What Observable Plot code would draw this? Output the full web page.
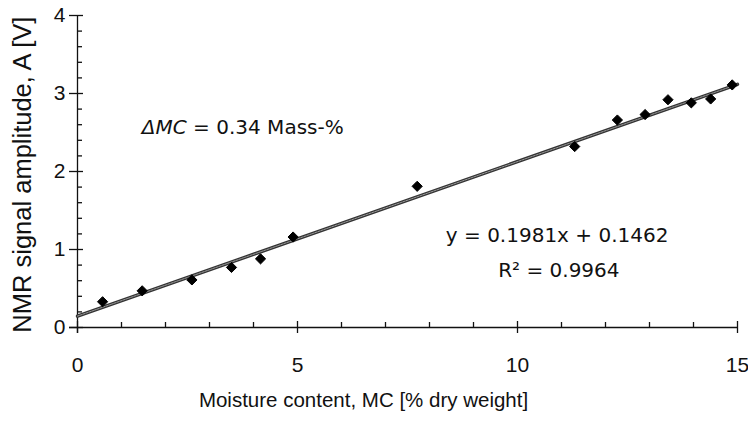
<!DOCTYPE html>
<html>
<head>
<meta charset="utf-8">
<script src="https://cdn.jsdelivr.net/npm/d3@7"></script>
<script src="https://cdn.jsdelivr.net/npm/@observablehq/plot@0.6"></script>
<style>
  html, body { margin: 0; padding: 0; background: #fff; }
  #chart { width: 748px; height: 421px; }
</style>
</head>
<body>
<div id="chart"></div>
<script>
// Data
const moisture = [0.57, 1.47, 2.6, 3.5, 4.16, 4.9, 7.72, 11.3, 12.27, 12.9, 13.42, 13.95, 14.39, 14.88];
const amplitude = [0.33, 0.47, 0.61, 0.77, 0.88, 1.16, 1.81, 2.32, 2.66, 2.73, 2.92, 2.88, 2.93, 3.11];
const slope = 0.1981;
const intercept = 0.1462;
const trendX = [0, 15];
const xTicks = [0, 5, 10, 15];
const yTicks = [0, 1, 2, 3, 4];
const xMinor = [1, 2, 3, 4, 6, 7, 8, 9, 11, 12, 13, 14];
const yMinor = [0.2, 0.4, 0.6, 0.8, 1.2, 1.4, 1.6, 1.8, 2.2, 2.4, 2.6, 2.8, 3.2, 3.4, 3.6, 3.8];
const xTitle = "Moisture content, MC [% dry weight]";
const yTitle = "NMR signal amplitude, A [V]";
const eqText = "y = 0.1981x + 0.1462";
const r2Text = "R\u00B2 = 0.9964";
const dmcText = "\u0394MC = 0.34 Mass-%";

const points = moisture.map((m, i) => ({x: m, y: amplitude[i]}));
const trend = trendX.map(x => ({x, y: slope * x + intercept}));

const font = "'Liberation Sans', Arial, sans-serif";
const annFont = "'DejaVu Sans', Verdana, sans-serif";
const ink = "#111";

const chart = Plot.plot({
  width: 748,
  height: 421,
  marginLeft: 77,
  marginRight: 11,
  marginTop: 15,
  marginBottom: 94,
  x: {domain: [0, 15], axis: null},
  y: {domain: [0, 4], axis: null},
  style: {fontFamily: font, background: "#fff", color: ink},
  marks: [
    // axis lines
    Plot.ruleY([0], {insetLeft: -8, stroke: ink, strokeWidth: 1.3}),
    Plot.ruleX([0], {insetBottom: -6, stroke: ink, strokeWidth: 1.3}),
    // x ticks
    Plot.ruleX(xMinor, {y1: 0, y2: 0, insetBottom: 5, stroke: ink, strokeWidth: 1.3}),
    Plot.ruleX(xTicks, {y1: 0, y2: 0, insetTop: 6, insetBottom: 6, stroke: ink, strokeWidth: 1.3}),
    // y ticks
    Plot.ruleY(yMinor, {x1: 0, x2: 0, insetRight: -5, stroke: ink, strokeWidth: 1.3}),
    Plot.ruleY(yTicks, {x1: 0, x2: 0, insetLeft: -8, insetRight: -6, stroke: ink, strokeWidth: 1.3}),
    // tick labels
    Plot.text(xTicks, {x: d => d, y: 0, dy: 38, text: d => String(d), fontSize: 21, fill: ink}),
    Plot.text(yTicks, {x: 0, y: d => d, dx: -12, textAnchor: "end", text: d => String(d), fontSize: 21, fill: ink}),
    // axis titles
    Plot.text([xTitle], {x: 6.5, y: 0, dy: 73, text: d => d, fontSize: 20.5, fill: ink}),
    Plot.text([yTitle], {x: 0, y: 1.96, dx: -55, rotate: -90, text: d => d, fontSize: 25.5, fill: ink}),
    // trend line
    Plot.line(trend, {x: "x", y: "y", stroke: "#333", strokeWidth: 3.4}),
    Plot.line(trend, {x: "x", y: "y", stroke: "#9a9a9a", strokeWidth: 1, strokeDasharray: "2,1"}),
    // points
    Plot.dot(points, {x: "x", y: "y", symbol: "diamond2", r: 4.6, fill: "#000", stroke: "#000", strokeWidth: 1}),
    // annotations
    Plot.text([dmcText], {x: 6.05, y: 2.56, textAnchor: "end", text: d => d, fontSize: 20, fontFamily: annFont, fill: ink, className: "dmc"}),
    Plot.text([eqText], {x: 10.9, y: 1.18, text: d => d, fontSize: 20, fontFamily: annFont, fill: ink}),
    Plot.text([r2Text], {x: 10.94, y: 0.73, text: d => d, fontSize: 20, fontFamily: annFont, fill: ink})
  ]
});

// italicize "ΔMC" in the annotation
d3.select(chart).selectAll("g.dmc text").each(function() {
  const t = d3.select(this);
  const s = t.text();
  t.text(null);
  t.append("tspan").attr("font-style", "italic").text(s.slice(0, 3));
  t.append("tspan").text(s.slice(3));
});

document.getElementById("chart").appendChild(chart);
</script>
</body>
</html>
